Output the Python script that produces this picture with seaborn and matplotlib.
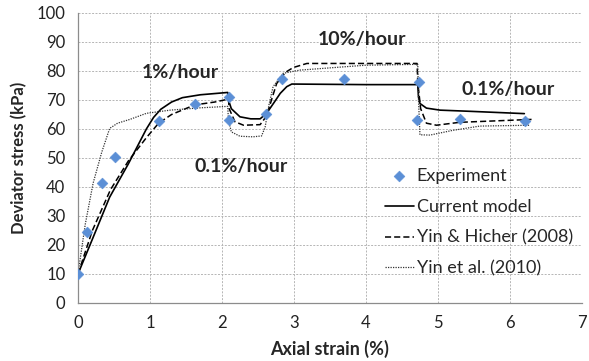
import pandas as pd
import matplotlib
matplotlib.use("Agg")
import matplotlib.pyplot as plt
import seaborn as sns

sns.set_style("white")
plt.rcParams['font.family'] = ['Lato', 'DejaVu Sans']

# Experiment points
exp_x = [0, 0.12, 0.33, 0.52, 1.12, 1.62, 2.1, 2.1, 2.61, 2.83, 3.7, 4.73, 4.71, 5.3, 6.21]
exp_y = [10, 24.4, 41.5, 50.3, 62.7, 68.5, 71.2, 63, 65.3, 77.4, 77.2, 76.2, 63, 63.3, 62.7]

# Current model (solid)
cm_x = [0, 0.2, 0.44, 0.7, 0.95, 1.05, 1.15, 1.3, 1.45, 1.7, 2.08, 2.09, 2.13, 2.25, 2.4,
        2.53, 2.62, 2.72, 2.81, 2.9, 2.97, 4.0, 4.72, 4.73, 4.75, 4.84, 5.03, 5.44, 6.2]
cm_y = [10, 22, 36.5, 48, 60, 64, 66.8, 69.3, 70.8, 71.8, 72.6, 70, 67, 64.2, 63.5,
        63.5, 65.4, 69, 72.3, 74.6, 75.5, 75.3, 75.3, 71, 68.8, 67.2, 66.5, 66.1, 65.3]

# Yin & Hicher (2008) (dashed)
yh_x = [0, 0.2, 0.45, 0.7, 0.95, 1.12, 1.3, 1.62, 1.9, 2.09, 2.1, 2.18, 2.3, 2.53, 2.62,
        2.7, 2.76, 2.88, 2.99, 3.18, 4.0, 4.71, 4.72, 4.76, 4.84, 4.98, 5.3, 5.8, 6.3]
yh_y = [10, 25, 39, 49, 57, 62, 65, 68.3, 69.3, 70.3, 67, 62.5, 61.3, 61.5, 64.5,
        71, 75.7, 79.5, 81.2, 82.6, 82.6, 82.6, 76, 67, 62, 61.3, 62.3, 62.8, 63.3]

# Yin et al. (2010) (dotted)
ye_x = [0, 0.1, 0.21, 0.33, 0.44, 0.55, 0.72, 0.95, 1.28, 1.7, 2.08, 2.09, 2.13, 2.25,
        2.43, 2.55, 2.6, 2.65, 2.71, 2.85, 3.08, 4.0, 4.72, 4.73, 4.75, 4.89, 5.2, 5.58, 6.28]
ye_y = [10, 27, 41.3, 52, 60.2, 62, 63.3, 65.4, 66.5, 67.3, 67.8, 63, 59, 57.5,
        57.3, 57.6, 60.7, 68, 74.6, 79.2, 80.3, 82, 82.3, 70, 58, 57.9, 59.5, 61, 61.3]

rate_labels = ["1%/hour", "0.1%/hour", "10%/hour", "0.1%/hour"]
rate_x = [1.42, 2.26, 3.95, 5.97]
rate_y = [79.6, 46.9, 90.7, 73.7]

fig = plt.figure(figsize=(5.89, 3.61), dpi=100)
ax = fig.add_axes([0.1324, 0.1607, 0.8556, 0.8033])

sns.lineplot(x=cm_x, y=cm_y, sort=False, ax=ax, color='black', lw=1.2,
             label='Current model')
sns.lineplot(x=yh_x, y=yh_y, sort=False, ax=ax, color='black', lw=1.1,
             label='Yin & Hicher (2008)')
sns.lineplot(x=ye_x, y=ye_y, sort=False, ax=ax, color='#333333', lw=0.9,
             label='Yin et al. (2010)')
ax.lines[1].set_dashes([4, 2])
ax.lines[2].set_dashes([1, 1])
sns.scatterplot(x=exp_x, y=exp_y, ax=ax, marker='D', s=30, color='#5b8fd6',
                edgecolor='#5b8fd6', zorder=5, label='Experiment')

for t, xx, yy in zip(rate_labels, rate_x, rate_y):
    ax.text(xx, yy, t, fontsize=14, fontweight='bold', ha='center', va='center')

ax.set_xlim(0, 7)
ax.set_ylim(0, 100)
ax.set_xticks(range(0, 8))
ax.set_yticks(range(0, 101, 10))
ax.grid(True, color='#b5b5b5', linestyle=(0, (2, 1.5)), lw=0.7)
ax.set_axisbelow(True)
for s in ['top', 'right']:
    ax.spines[s].set_visible(False)
for s in ['left', 'bottom']:
    ax.spines[s].set_color('#8c8c8c')
    ax.spines[s].set_linewidth(0.9)
ax.tick_params(axis='both', labelsize=12, colors='#222222', length=4,
               width=0.9, direction='out', pad=5)
ax.tick_params(axis='both', color='#8c8c8c')
ax.set_xlabel("Axial strain (%)", fontsize=13, fontweight='bold', labelpad=6)
ax.set_ylabel("Deviator stress (kPa)", fontsize=12, fontweight='bold', labelpad=7)

h, l = ax.get_legend_handles_labels()
order = [3, 0, 1, 2]
ax.legend([h[i] for i in order], [l[i] for i in order], loc='upper left',
          bbox_to_anchor=(0.595, 0.49), frameon=False, fontsize=13,
          handlelength=1.6, handletextpad=0.15, labelspacing=0.82,
          borderaxespad=0)

fig.savefig("out.png", dpi=100)
